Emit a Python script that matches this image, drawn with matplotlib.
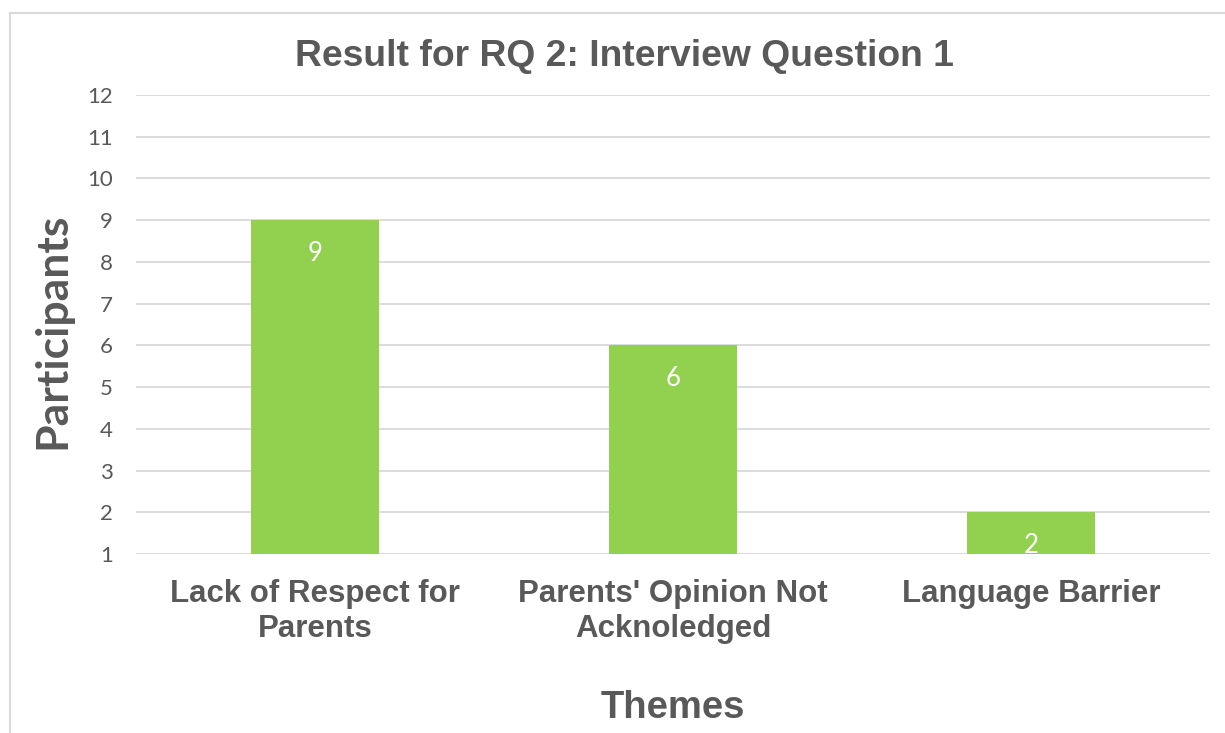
import matplotlib
matplotlib.use("Agg")
import matplotlib.pyplot as plt
from matplotlib.patches import Rectangle

# Data
themes = ["Lack of Respect for\nParents", "Parents' Opinion Not\nAcknoledged", "Language Barrier"]
participants = [9, 6, 2]
y_ticks = list(range(1, 13))

BAR_COLOR = "#92D050"
TEXT_COLOR = "#595959"
GRID_COLOR = "#D9D9D9"

W, H = 1225, 733
fig = plt.figure(figsize=(W / 100, H / 100), dpi=100)

# light outer chart border (right edge is cut off in the reference)
fig.patches.append(Rectangle((10 / W, -0.1), 1.2, 1 - 13 / H + 0.1, transform=fig.transFigure,
                             fill=False, edgecolor=GRID_COLOR, linewidth=1.5))

ax = fig.add_axes([136 / W, 1 - 554 / H, (1210 - 136) / W, (554 - 95) / H])

base = y_ticks[0]
x = list(range(len(themes)))
heights = [p - base for p in participants]
bars = ax.bar(x, heights, bottom=base, width=0.355, color=BAR_COLOR, zorder=2)

for rect, val in zip(bars, participants):
    ax.annotate(str(val), (rect.get_x() + rect.get_width() / 2, val),
                xytext=(0, -24), textcoords="offset points",
                ha="center", va="center", color="white", fontsize=18.5, family="Lato", zorder=3)

ax.set_xlim(-0.5, 2.5)
ax.set_ylim(y_ticks[0], y_ticks[-1])
ax.set_yticks(y_ticks)
ax.set_xticks(x)
ax.set_xticklabels(themes, fontsize=22.5, fontweight="bold", family="Liberation Sans",
                   color=TEXT_COLOR, linespacing=1.2)
ax.tick_params(axis="y", labelsize=16, labelcolor=TEXT_COLOR, length=0, pad=16.5)
ax.tick_params(axis="x", length=0, pad=18)
for lbl in ax.get_yticklabels():
    lbl.set_family("Lato")

ax.grid(axis="y", color=GRID_COLOR, linewidth=1.3, zorder=0)
ax.set_axisbelow(True)
for s in ax.spines.values():
    s.set_visible(False)

fig.text(624 / W, 1 - 57 / H, "Result for RQ 2: Interview Question 1", ha="center", va="center",
         fontsize=26.8, fontweight="bold", family="Liberation Sans", color=TEXT_COLOR)
fig.text(52 / W, 1 - 331 / H, "Participants", rotation=90, ha="center", va="center",
         fontsize=32, fontweight="bold", family="Lato", color=TEXT_COLOR)
fig.text(673 / W, 1 - 708 / H, "Themes", ha="center", va="center",
         fontsize=27.5, fontweight="bold", family="Liberation Sans", color=TEXT_COLOR)

fig.savefig("out.png", dpi=100)
